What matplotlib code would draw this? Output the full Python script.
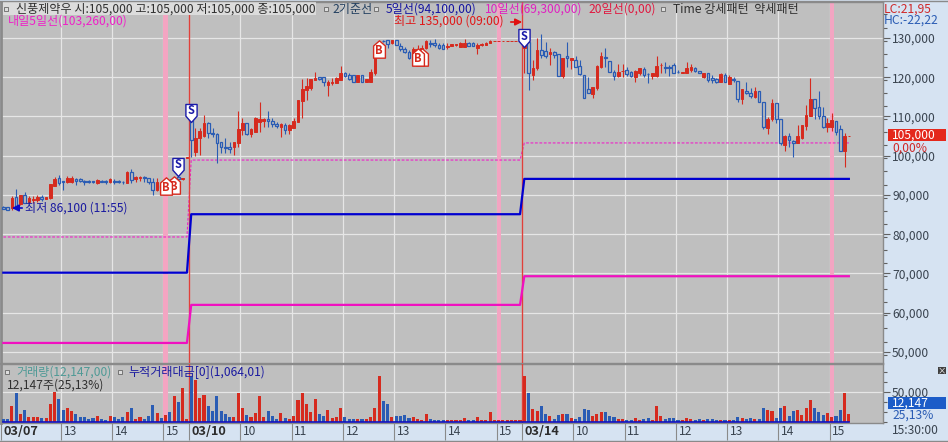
import numpy as np
import matplotlib
matplotlib.use("Agg")
import matplotlib.pyplot as plt
from matplotlib.path import Path
from matplotlib.patches import Rectangle
from matplotlib.ticker import FixedLocator, FuncFormatter
from matplotlib.transforms import ScaledTranslation

plt.rcParams['font.family'] = ['Noto Sans CJK KR', 'DejaVu Sans']

# 5 minute bars: 03/07 from 11:50, then 03/10 and 03/14
opens = [
    87000, 86900, 86600, 89400, 87600, 89900, 88300, 88600, 88600, 89400, 89000, 89200, 92400, 94250, 93500, 93250,
    93300, 94000, 94000, 93570, 93480, 93480, 92980, 93500, 93500, 93230, 93570, 93480, 93400, 93150, 95950, 94080,
    94340, 94670, 94250, 93230, 91280, 92550, 92600, 93800, 93800, 94500, 94100, 99400,
    # 03/10
    109100, 100900, 104450, 105100, 108450, 105900, 105550, 103400, 102300, 102150, 102150, 103150, 106600, 108400,
    105550, 106150, 108700, 108800, 109450, 108950, 108150, 107250, 107850, 106550, 107150, 108700, 114050, 116800,
    117200, 119300, 120050, 119950, 118000, 118600, 118650, 119300, 121000, 120550, 120500, 118900, 120500, 118900,
    118900, 121000, 125500, 129300, 129500, 128800, 129500, 128050, 127100, 126500, 125700, 126100, 126500, 127400,
    128800, 128810, 128130, 128220, 127800, 128050, 128130, 127800, 127800, 128810, 128810, 127500, 128130, 128300,
    128650, 129280, 129280, 129280, 129280, 129280, 129280, 129280,
    # 03/14
    127400, 129066, 120600, 122270, 126950, 126780, 125840, 126350, 125930, 120320, 125420, 124400, 124400, 122870,
    120570, 116900, 115740, 117180, 122700, 125080, 124230, 121430, 120320, 121600, 121850, 121250, 120150, 121170,
    122020, 120900, 120410, 120410, 123050, 122600, 122600, 123120, 121300, 121100, 121000, 121850, 122450, 121680,
    120150, 121000, 119730, 119560, 118880, 120570, 118280, 119560, 119050, 114380, 116500, 116080, 115060, 116420,
    113780, 107000, 109280, 113360, 109280, 102750, 105040, 103850, 103170, 104440, 107670, 110220, 114460, 112340,
    110220, 107420, 107420, 108860, 106820, 101300, 104950]
highs = [
    87100, 87000, 89700, 91500, 90000, 90650, 89750, 89700, 90000, 90000, 89500, 92900, 94700, 95100, 93650, 94900,
    94900, 94250, 94250, 93910, 93830, 93650, 94000, 93700, 93800, 94250, 94000, 93830, 93650, 96100, 96540, 94930,
    94840, 94840, 94420, 94250, 94250, 92800, 93200, 94000, 94700, 94700, 94400, 99700,
    # 03/10
    109500, 107000, 107150, 110400, 108500, 107000, 105900, 103400, 104400, 103600, 103600, 111500, 109500, 108450,
    107000, 109800, 113600, 109550, 111500, 109500, 108700, 108250, 108250, 108000, 109700, 114200, 119600, 119700,
    119500, 121250, 120050, 119950, 119300, 119700, 120000, 122850, 121250, 121000, 120500, 120500, 120500, 119550,
    122000, 126500, 129000, 129400, 129500, 129500, 129500, 128800, 127800, 126950, 127800, 128200, 128200, 129500,
    129500, 129660, 128800, 128800, 128650, 128500, 128550, 128900, 129660, 128900, 128900, 128650, 128700, 129100,
    129400, 129350, 129350, 129350, 129350, 129350, 129350, 129350,
    # 03/14
    130500, 129100, 124400, 129900, 131000, 129060, 127370, 126770, 125930, 124820, 128900, 124820, 125400, 124400,
    120570, 120150, 117600, 123120, 126350, 127370, 124230, 121850, 123300, 123300, 122700, 121680, 121850, 122280,
    122530, 121170, 121000, 125420, 123550, 123970, 123120, 123550, 121850, 121300, 123800, 123300, 122700, 121700,
    121170, 121170, 120570, 119900, 121000, 121000, 120570, 120150, 119100, 116950, 118880, 117180, 117440, 116420,
    113780, 109790, 114370, 113400, 109300, 105290, 105720, 104020, 107840, 107900, 112930, 119720, 114500, 116580,
    112510, 109540, 110810, 108900, 107840, 105720, 105050]
lows = [
    86400, 86100, 86200, 86500, 87500, 87900, 87900, 88000, 88300, 88500, 88900, 89000, 92200, 92550, 91300, 93000,
    93000, 92600, 93300, 92640, 92980, 92980, 92900, 93200, 92900, 92980, 92800, 92980, 92800, 93000, 92980, 93400,
    93650, 93400, 92800, 90000, 91100, 91500, 92200, 92800, 93600, 93900, 93900, 99300,
    # 03/10
    99800, 99950, 100200, 104900, 104450, 104900, 98100, 100800, 100600, 100600, 100200, 102300, 105300, 105400,
    104700, 106050, 106150, 107400, 107400, 107400, 107000, 104700, 105550, 105550, 107000, 108500, 109550, 114200,
    116750, 119250, 119300, 117800, 115300, 117900, 118500, 119300, 120000, 119300, 118900, 118900, 118900, 118900,
    118900, 120500, 125400, 129100, 127400, 128400, 128200, 126700, 126100, 124550, 125250, 125700, 126300, 127100,
    127800, 127800, 127200, 127200, 127100, 128000, 128050, 127750, 127800, 127900, 127900, 125850, 127900, 128200,
    128600, 129250, 129250, 129250, 129250, 129250, 129250, 129250,
    # 03/14
    121000, 116760, 119300, 121850, 124800, 124800, 123120, 124800, 120400, 119730, 122700, 122100, 122700, 120570,
    114700, 115900, 114720, 116750, 122270, 122700, 121250, 119300, 119980, 119980, 120400, 119980, 118880, 120580,
    119980, 118450, 119470, 120150, 121000, 121000, 120410, 121000, 121000, 121000, 121000, 121430, 121250, 121000,
    119900, 118880, 118450, 118450, 118880, 118800, 118280, 118880, 113780, 113190, 115740, 114640, 114640, 113780,
    106740, 105550, 108940, 108260, 102700, 101300, 102320, 99770, 103170, 104190, 106570, 110220, 109280, 109280,
    106990, 106140, 106310, 105290, 101300, 97060, 104950]
closes = [
    86500, 86300, 89150, 87000, 89900, 88050, 89300, 89000, 89600, 88900, 89400, 92800, 94100, 93150, 93250, 94300,
    94300, 93650, 93650, 93310, 93310, 93310, 93830, 93400, 93300, 94080, 93310, 93310, 93230, 95950, 93820, 94670,
    94670, 94250, 93230, 91280, 93400, 91700, 93000, 93000, 94500, 94100, 94300, 99600,
    # 03/10
    104000, 104400, 106300, 108350, 105700, 105650, 103350, 102300, 102000, 101800, 103400, 106750, 108250, 105550,
    106900, 109550, 109350, 109350, 108850, 108100, 107600, 108000, 106550, 107850, 108950, 114100, 116900, 117800,
    119450, 119750, 119550, 118900, 118850, 118850, 119900, 121000, 120300, 119650, 118900, 120500, 118900, 119550,
    121400, 125650, 128500, 129200, 128500, 129500, 128300, 127200, 126500, 124800, 127200, 127100, 127400, 129300,
    128560, 128220, 127540, 127280, 128050, 128390, 128470, 128810, 128650, 127960, 127960, 128200, 128470, 128810,
    129320, 129320, 129320, 129320, 129320, 129320, 129320, 129320,
    # 03/14
    128200, 121000, 122270, 126950, 125670, 125420, 126520, 125670, 120410, 124820, 124820, 124820, 122700, 120750,
    114720, 116080, 117440, 122950, 125420, 124820, 121250, 120400, 121250, 121700, 120830, 120320, 121680, 122280,
    120580, 120750, 121000, 122870, 123200, 122450, 122450, 121170, 121250, 121250, 122270, 122530, 121680, 121000,
    121000, 119300, 119300, 118710, 120750, 118880, 119980, 119390, 114380, 116930, 115910, 115230, 116590, 113780,
    107250, 109370, 113360, 109280, 103170, 105040, 104020, 103340, 105040, 107840, 110380, 114460, 112250, 110220,
    107240, 108260, 109110, 106140, 101300, 105040, 105000]
# volume, thousand shares
volumes = [
    4.5, 4.5, 26.4, 48.8, 12.9, 19.6, 7.9, 8.4, 7.9, 5.6, 6.7, 29.7, 50.5, 38.1, 19.6, 23.6,
    18.5, 12.9, 7.9, 7.9, 5.0, 6.7, 9.5, 4.5, 2.8, 9.5, 8.4, 4.5, 8.4, 16.8, 23.6, 4.5,
    8.4, 4.5, 9.5, 28.0, 15.1, 6.2, 11.2, 16.8, 43.8, 33.7, 57.2, 4.5,
    # 03/10
    75.7, 70.1, 40.4, 44.9, 26.9, 18.5, 43.8, 18.5, 12.9, 8.4, 7.9, 48.8, 23.6, 11.2,
    8.4, 15.1, 43.8, 8.4, 18.5, 10.1, 4.5, 15.1, 6.7, 3.9, 9.5, 36.5, 48.8, 29.7,
    15.7, 38.1, 12.9, 9.5, 19.6, 5.6, 7.3, 22.4, 7.3, 3.9, 3.9, 3.9, 3.9, 4.5,
    8.4, 23.6, 76.9, 35.3, 29.7, 7.3, 9.5, 10.1, 11.2, 5.6, 8.4, 3.9, 2.8, 12.9,
    4.5, 2.2, 2.2, 2.2, 2.2, 2.2, 2.2, 2.8, 5.6, 2.2, 2.2, 7.3, 2.2, 2.2,
    16.8, 2.2, 2.2, 2.2, 2.2, 2.2, 2.2, 2.2,
    # 03/14
    76.9, 48.8, 20.8, 18.0, 26.4, 12.9, 9.5, 4.5, 11.2, 12.9, 12.9, 5.6, 4.5, 8.4,
    21.3, 19.6, 9.5, 12.9, 16.8, 16.8, 9.5, 8.4, 4.5, 4.5, 2.8, 2.8, 5.6, 2.8,
    4.5, 5.6, 2.8, 26.9, 9.5, 4.5, 5.6, 5.6, 2.8, 2.8, 5.6, 4.5, 2.8, 4.5,
    2.8, 4.5, 4.5, 2.2, 2.2, 2.2, 2.2, 2.2, 7.3, 5.6, 3.9, 5.6, 4.5, 3.9,
    23.6, 19.6, 18.0, 5.6, 22.4, 26.4, 9.5, 18.0, 19.6, 11.2, 22.4, 36.5, 22.4, 16.8,
    11.2, 14.0, 7.3, 9.5, 19.6, 48.8, 12.147]
cum_value = [0.3] * 199

# daily reference lines, one level per session
session_bars = [44, 78, 77]
line5_levels = [70200, 85100, 94100]
line10_levels = [52300, 62000, 69300]
tomorrow5_levels = [79300, 98900, 103260]

tick_bars = [0, 14, 26, 38, 44, 56, 68, 80, 92, 104, 116, 122, 134, 146, 158, 170, 182, 194]
tick_names = ['03/07', '13', '14', '15', '03/10', '10', '11', '12', '13', '14', '15',
              '03/14', '10', '11', '12', '13', '14', '15']
band_bars = [38, 116, 194]
day_bars = [44, 122]
price_ticks = [50000, 60000, 70000, 80000, 90000, 100000, 110000, 120000, 130000]

sell_marks = [(41, 97130), (44, 110890), (122, 129900)]
buy_marks = [(40, 92550), (38, 92290), (88, 127200), (98, 125160), (97, 125160)]

W, H = 948, 442
RED = '#d62a1e'
BLUE = '#2a5cb4'
NAVY = '#1a1aa8'
MAGENTA = '#ee22c8'
GRAY_BG = '#bfbfbf'
PANEL = '#d6e3f2'
GRID = '#e6e6e6'
XLIM = (-0.5, 206.0)
TXT = 8.7


def px_axes(x0, y0, x1, y1):
    return fig.add_axes([x0 / W, 1 - y1 / H, (x1 - x0) / W, (y1 - y0) / H])


def label(x, y, s, color='#303030', size=TXT, **kw):
    fig.text(x / W, 1 - y / H, s, color=color, fontsize=size, va='center', ha=kw.pop('ha', 'left'), **kw)


def style_axes(ax):
    ax.set_facecolor(GRAY_BG)
    ax.set_xlim(*XLIM)
    ax.set_axisbelow(True)
    for name, sp in ax.spines.items():
        sp.set_color('#8a8a8a')
        sp.set_linewidth(1.0)
    ax.spines['left'].set_linewidth(2.0)
    ax.yaxis.tick_right()
    ax.grid(True, color=GRID, lw=0.9)
    for b in band_bars:
        ax.axvspan(b - 0.5, b + 0.5, color='#f3a5c2', lw=0, zorder=1)
    for b in day_bars:
        ax.axvline(b - 0.5, color='#e0403a', lw=1.0, zorder=4)


fig = plt.figure(figsize=(W / 100, H / 100), dpi=100, facecolor=PANEL)
ax = px_axes(1.2, 2, 883, 363)
vol = px_axes(1.2, 364, 883, 423)
style_axes(ax)
style_axes(vol)

bars = np.arange(len(opens))
opens, highs, lows, closes = map(np.array, (opens, highs, lows, closes))
up = closes >= opens
tops = np.maximum(opens, closes)
bottoms = np.minimum(opens, closes)
colors = np.where(up, RED, BLUE)
tick_pos = np.array(tick_bars) - 0.5

# price panel
ax.set_ylim(47190, 139170)
ax.set_xticks(tick_pos)
ax.tick_params(axis='x', length=0, labelbottom=False)
ax.yaxis.set_major_locator(FixedLocator(price_ticks))
ax.yaxis.set_minor_locator(FixedLocator(np.arange(46000, 139000, 10000 / 3)))
ax.yaxis.set_major_formatter(FuncFormatter(lambda v, p: f'{int(v):,}'))
ax.tick_params(axis='y', which='major', length=5, width=0.8, color='#606060', pad=1.5,
               labelsize=TXT, labelcolor='#3a4450')
ax.tick_params(axis='y', which='minor', length=3, width=0.8, color='#606060')

ax.vlines(bars, tops, highs, colors=colors, lw=0.8, zorder=5)
ax.vlines(bars, lows, bottoms, colors=colors, lw=0.8, zorder=5)
ax.bar(bars[up], (tops - bottoms)[up], bottom=bottoms[up], width=0.62, color=RED, edgecolor=RED, lw=0.7, zorder=6)
ax.bar(bars[~up], (tops - bottoms)[~up], bottom=bottoms[~up], width=0.62, facecolor=GRAY_BG, edgecolor=BLUE,
       lw=0.9, zorder=6)

ax.plot(bars, np.repeat(line5_levels, session_bars), color='#0000d0', lw=1.6, zorder=7)
ax.plot(bars, np.repeat(line10_levels, session_bars), color='#f010c0', lw=1.6, zorder=7)
ax.plot(bars, np.repeat(tomorrow5_levels, session_bars), color=MAGENTA, lw=0.8, ls=(0, (2.5, 1.5)), zorder=3)

# buy / sell signal markers, later ones sit in front
sell_path = Path([(-0.62, 1), (0.62, 1), (0.62, -0.3), (0, -1), (-0.62, -0.3), (-0.62, 1)], closed=True)
buy_path = Path([(0, 1), (0.68, 0.4), (0.68, -1), (-0.68, -1), (-0.68, 0.4), (0, 1)], closed=True)
for n, (x, p) in enumerate(buy_marks):
    ax.plot(x, p, marker=buy_path, ms=12.5, mfc='white', mec=RED, mew=1.0, zorder=8 + n * 0.1)
    ax.text(x, p - 500, 'B', color=RED, fontsize=8, fontweight='bold', ha='center', va='center',
            zorder=8.05 + n * 0.1)
for n, (x, p) in enumerate(sell_marks):
    ax.plot(x, p, marker=sell_path, ms=13, mfc='white', mec=NAVY, mew=1.0, zorder=9 + n * 0.1)
    ax.text(x, p + 600, 'S', color=NAVY, fontsize=8, fontweight='bold', ha='center', va='center',
            zorder=9.05 + n * 0.1)

# volume panel
vol.set_ylim(-2.2, 97.2)
vol.bar(bars, volumes, width=0.72, color=colors, lw=0, zorder=5)
vol.plot(bars, cum_value, color='#1010c0', lw=1.2, zorder=6)
vol.yaxis.set_major_locator(FixedLocator([50]))
vol.yaxis.set_minor_locator(FixedLocator(np.arange(0, 97, 50 / 3)))
vol.yaxis.set_major_formatter(FuncFormatter(lambda v, p: f'{int(v * 1000):,}'))
vol.tick_params(axis='y', which='major', length=5, width=0.8, color='#606060', pad=1.5,
                labelsize=TXT, labelcolor='#3a4450')
vol.tick_params(axis='y', which='minor', length=3, width=0.8, color='#606060')
vol.set_xticks(tick_pos)
vol.set_xticklabels(tick_names)
vol.tick_params(axis='x', length=12.2, width=0.8, color='#8a8a8a', pad=-11, labelsize=TXT, labelcolor='#3a4450')
shift = ScaledTranslation(2 / 72, 0, fig.dpi_scale_trans)
for t in vol.get_xticklabels():
    t.set_ha('left')
    t.set_transform(t.get_transform() + shift)
    if t.get_text().startswith('03/'):
        t.set_fontweight('bold')
        t.set_fontsize(9.2)
        t.set_color('#2c2c2c')

# header bar
fig.add_artist(Rectangle((3 / W, 1 - 15 / H), 313 / W, 12.5 / H, transform=fig.transFigure,
                         facecolor='#dcdcdc', lw=0, zorder=2))
label(16, 9, '신풍제약우 시:105,000 고:105,000 저:105,000 종:105,000', zorder=3)
label(332, 9, '2기준선', color='#234060', zorder=3)
label(386, 9, '5일선(94,100,00)', color='#1414a0', zorder=3)
label(485, 9, '10일선(69,300,00)', color='#e020c0', zorder=3)
label(588, 9, '20일선(0,00)', color='#e01840', zorder=3)
label(673, 9, 'Time 강세패턴  약세패턴', zorder=3)
for x, y in [(6, 9), (326, 9), (376, 9), (663, 9), (7, 372), (120, 372)]:
    fig.add_artist(Rectangle(((x - 2) / W, 1 - (y + 2) / H), 4 / W, 4 / H, transform=fig.transFigure,
                             facecolor='#dddddd', edgecolor='#666666', lw=0.6, zorder=3))
label(8, 21, '내일5일선(103,260,00)', color=MAGENTA, zorder=3)
label(394, 21, '최고 135,000 (09:00)', color='#e01818', zorder=3)
label(25, 208, '최저 86,100 (11:55)', color='#1a1aa0', zorder=10)
fig.add_artist(plt.Annotation('', xy=(525 / W, 1 - 22 / H), xytext=(508 / W, 1 - 22 / H),
                              xycoords='figure fraction', textcoords='figure fraction',
                              arrowprops=dict(arrowstyle='-|>', color='#e01010', lw=1.2), zorder=10))
fig.add_artist(plt.Annotation('', xy=(9 / W, 1 - 208 / H), xytext=(25 / W, 1 - 208 / H),
                              xycoords='figure fraction', textcoords='figure fraction',
                              arrowprops=dict(arrowstyle='-|>', color='#0a0ac8', lw=1.2), zorder=10))

# right panel
label(884, 9, 'LC:21,95', color='#d02828', zorder=3)
label(884, 20, 'HC:-22,22', color='#2a5cb4', zorder=3)
fig.add_artist(Rectangle((888 / W, 1 - 141 / H), 58 / W, 12.5 / H, transform=fig.transFigure,
                         facecolor='#e4281c', lw=0, zorder=3))
label(892, 135, '105,000', color='white', zorder=4)
label(892, 148, '0,00%', color='#d02828', zorder=4)
fig.add_artist(Rectangle((888 / W, 1 - 409 / H), 58 / W, 12.5 / H, transform=fig.transFigure,
                         facecolor='#1c5cc8', lw=0, zorder=3))
label(892, 403, '12,147', color='white', zorder=4)
label(892, 415, '25,13%', color='#2a5cb4', zorder=4)
label(892, 431, '15:30:00', color='#3a4450', zorder=3)
fig.add_artist(Rectangle((938 / W, 1 - 374 / H), 8 / W, 7 / H, transform=fig.transFigure,
                         facecolor='#404040', lw=0, zorder=3))
label(942, 370.5, '×', color='white', size=6, ha='center', zorder=4)

# volume legend
label(16, 372, '거래량(12,147,00)', color='#4f9a96', zorder=3)
label(128, 372, '누적거래대금[0](1,064,01)', color='#1a1aa0', zorder=3)
label(7, 385, '12,147주(25,13%)', color='#303030', zorder=3)

fig.add_artist(plt.Line2D([0, 1], [1 - 440.5 / H] * 2, color='#8a8a8a', lw=1.0))
fig.add_artist(plt.Line2D([0, 1], [1 - 1 / H] * 2, color='#8a8a8a', lw=1.0))

fig.savefig('out.png', dpi=100, facecolor=fig.get_facecolor())
